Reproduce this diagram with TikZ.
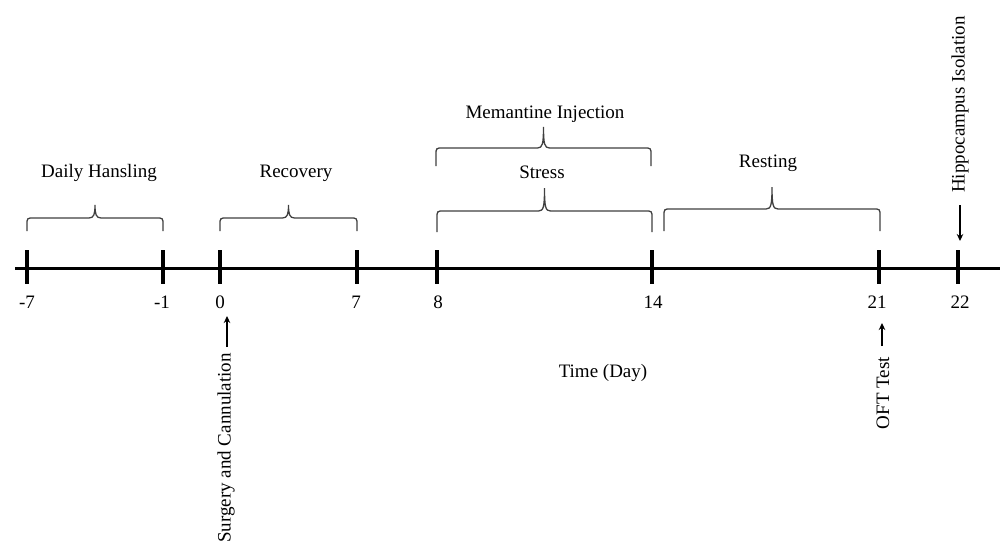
\documentclass[tikz,border=0pt]{standalone}
\usepackage{fontspec}
\setmainfont{Liberation Serif}
\usetikzlibrary{arrows.meta}
\newcommand\tlbrace[6]{% name, x1, x2, ybottom, yhoriz, ytip
  \draw[bracestyle] (#2,#4) -- (#2,{#5+7}) .. controls (#2,#5) .. ({#2+7},#5)
    -- ({(#2+#3)/2-6},#5) .. controls ({(#2+#3)/2-1},#5) and ({(#2+#3)/2},{#5-4}) .. ({(#2+#3)/2},#6) coordinate (#1)
    .. controls ({(#2+#3)/2},{#5-4}) and ({(#2+#3)/2+1},#5) .. ({(#2+#3)/2+6},#5)
    -- ({#3-7},#5) .. controls (#3,#5) .. (#3,{#5+7}) -- (#3,#4);}
\begin{document}
\begin{tikzpicture}[x=1pt,y=-1pt,
  every node/.style={font=\fontsize{19}{22}\selectfont, inner sep=0pt},
  bracestyle/.style={draw=black!75, line width=1.3pt},
  tickstyle/.style={line width=4.5pt},
  axisstyle/.style={line width=3pt},
  arr/.style={line width=1.4pt, -{Stealth[length=7pt,width=6.5pt]}}]
\useasboundingbox (0,0) rectangle (1000,546);
\fill[white] (0,0) rectangle (1000,546);
% axis
\coordinate (a0) at (15,268);
\coordinate (a1) at (1000,268);
\draw[axisstyle] (a0) -- (a1);
% ticks and labels
\foreach \x/\n/\t/\lx in {27/m7/-7/27, 163/m1/-1/162, 220/p0/0/220, 357/p7/7/356, 437/p8/8/438, 652/p14/14/653, 879/p21/21/877, 958/p22/22/960}{
  \coordinate (tt\n) at (\x,250);
  \coordinate (tb\n) at (\x,284);
  \draw[tickstyle] (tt\n) -- (tb\n);
  \node (lab\n) at (\lx,302) {\t};
}
% braces
\tlbrace{bdaily}{27}{163}{231}{218}{205}
\tlbrace{brec}{220}{357}{231}{218}{205}
\tlbrace{bstress}{437}{652}{232}{211}{188}
\tlbrace{bmem}{436}{651}{166}{148}{127}
\tlbrace{brest}{664}{880}{231}{209}{187}
\node (daily) at (99,173) {Daily Hansling};
\node (rec) at (296,173) {Recovery};
\node (stress) at (542,172) {Stress};
\node (mem) at (545,114) {Memantine Injection};
\node (rest) at (768,163) {Resting};
\node (time) at (603,373) {Time (Day)};
% arrows with rotated labels
\node[rotate=90, anchor=east] (surg) at (226,353) {Surgery and Cannulation};
\coordinate (surgA) at (227,347);
\coordinate (surgB) at (227,316);
\draw[arr] (surgA) -- (surgB);
\node[rotate=90, anchor=east] (oft) at (883,357) {OFT Test};
\coordinate (oftA) at (882,346);
\coordinate (oftB) at (882,323);
\draw[arr] (oftA) -- (oftB);
\node[rotate=90, anchor=west] (hip) at (960,193) {Hippocampus Isolation};
\coordinate (hipA) at (960,205);
\coordinate (hipB) at (960,241);
\draw[arr] (hipA) -- (hipB);
\end{tikzpicture}
\end{document}
